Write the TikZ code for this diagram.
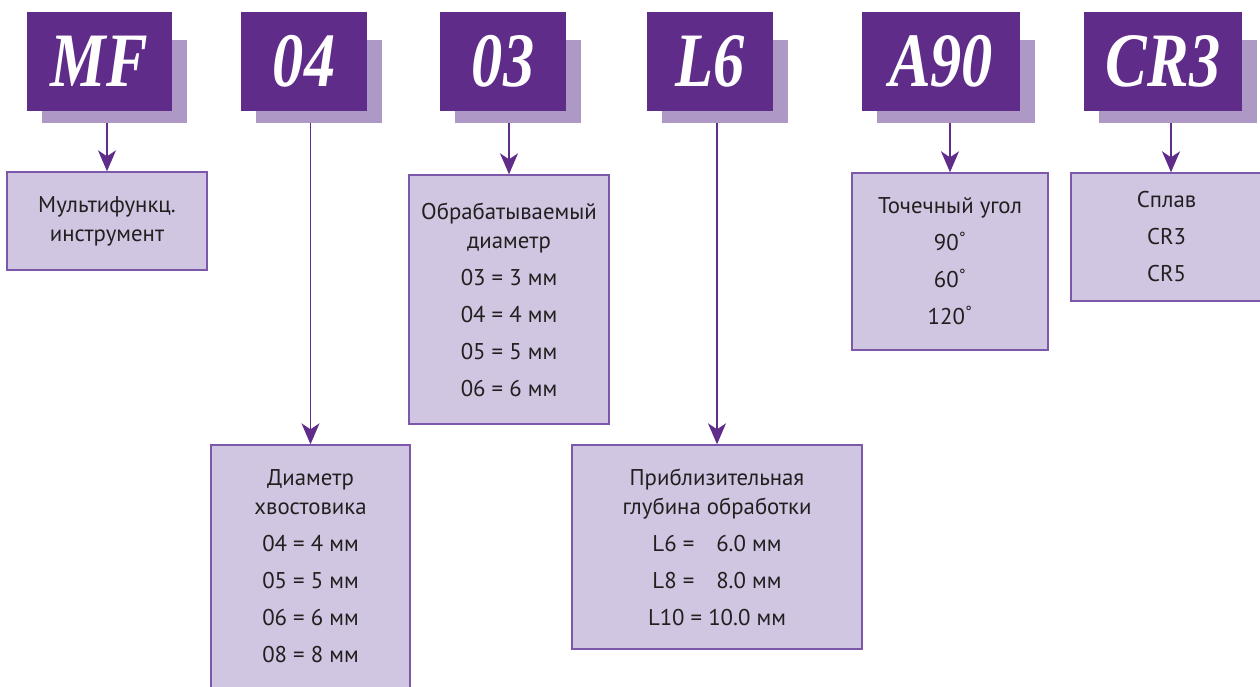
\documentclass[tikz,border=0pt]{standalone}
\usepackage{fontspec}
\setmainfont{PT Sans}
\newfontfamily\codefont[FakeStretch=0.81]{Liberation Serif}
\usepackage{tikz}
\usetikzlibrary{arrows.meta}
\definecolor{codeviolet}{RGB}{96,44,138}
\definecolor{codeshade}{RGB}{173,152,198}
\definecolor{infofill}{RGB}{209,198,225}
\definecolor{infoline}{RGB}{125,87,170}
\definecolor{infotext}{RGB}{35,31,32}

\begin{document}
\begin{tikzpicture}[x=1pt,y=-1pt,>={Stealth[length=21pt,width=18pt,inset=6pt]},
  code/.style={rectangle,fill=codeviolet,text=white,inner sep=0pt,minimum height=99,font=\codefont\bfseries\itshape\fontsize{77}{77}\selectfont},
  backdrop/.style={fill=codeshade},
  info/.style={rectangle,fill=infofill,draw=infoline,line width=1.4pt,text=infotext,inner sep=0pt,align=center,font=\fontsize{22.8}{29}\selectfont},
  link/.style={->,draw=codeviolet,fill=codeviolet,line width=1.5pt}]
\useasboundingbox (0,0) rectangle (1260,687);
% code letters with their shadows
\foreach \name/\cx/\w/\txt in {mf/99.5/145/MF,c04/304/126/04,c03/503/126/03,cl6/710/126/L6,ca90/941/158/A90,ccr3/1163/158/CR3}{
  \fill[backdrop] (\cx-\w/2+15,40) rectangle (\cx+\w/2+15,123);
  \node[code,minimum width=\w] (\name) at (\cx,61.5) {\txt};
}
\coordinate (mf-out) at (107,123);
\coordinate (c04-out) at (310.5,123);
\coordinate (c03-out) at (509,123);
\coordinate (cl6-out) at (717,123);
\coordinate (ca90-out) at (950,123);
\coordinate (ccr3-out) at (1171,123);
% explanation boxes
\node[info,minimum width=200,minimum height=98] (info-mf) at (107,221) {Мультифункц.\\инструмент};
\node[info,minimum width=199,minimum height=243] (info-shank) at (310.5,566.5) {Диаметр\\хвостовика\\[8pt]04 = 4 мм\\[8pt]05 = 5 мм\\[8pt]06 = 6 мм\\[8pt]08 = 8 мм};
\node[info,minimum width=200,minimum height=249] (info-dia) at (509,299.5) {Обрабатываемый\\диаметр\\[8pt]03 = 3 мм\\[8pt]04 = 4 мм\\[8pt]05 = 5 мм\\[8pt]06 = 6 мм};
\node[info,minimum width=290,minimum height=204] (info-depth) at (717,547) {Приблизительная\\глубина обработки\\[8pt]L6 =\hspace{22pt}6.0 мм\\[8pt]L8 =\hspace{22pt}8.0 мм\\[8pt]L10 = 10.0 мм};
\node[info,minimum width=196,minimum height=177] (info-angle) at (950,261.5) {Точечный угол\\[8pt]90\textsuperscript{°}\\[8pt]60\textsuperscript{°}\\[8pt]120\textsuperscript{°}};
\node[info,minimum width=191,minimum height=128] (info-grade) at (1166.5,237) {Сплав\\[8pt]CR3\\[8pt]CR5};
% connectors
\draw[link] (mf-out) -- (mf-out |- info-mf.north);
\draw[link] (c04-out) -- (c04-out |- info-shank.north);
\draw[link] (c03-out) -- (c03-out |- info-dia.north);
\draw[link] (cl6-out) -- (cl6-out |- info-depth.north);
\draw[link] (ca90-out) -- (ca90-out |- info-angle.north);
\draw[link] (ccr3-out) -- (ccr3-out |- info-grade.north);
\end{tikzpicture}
\end{document}
